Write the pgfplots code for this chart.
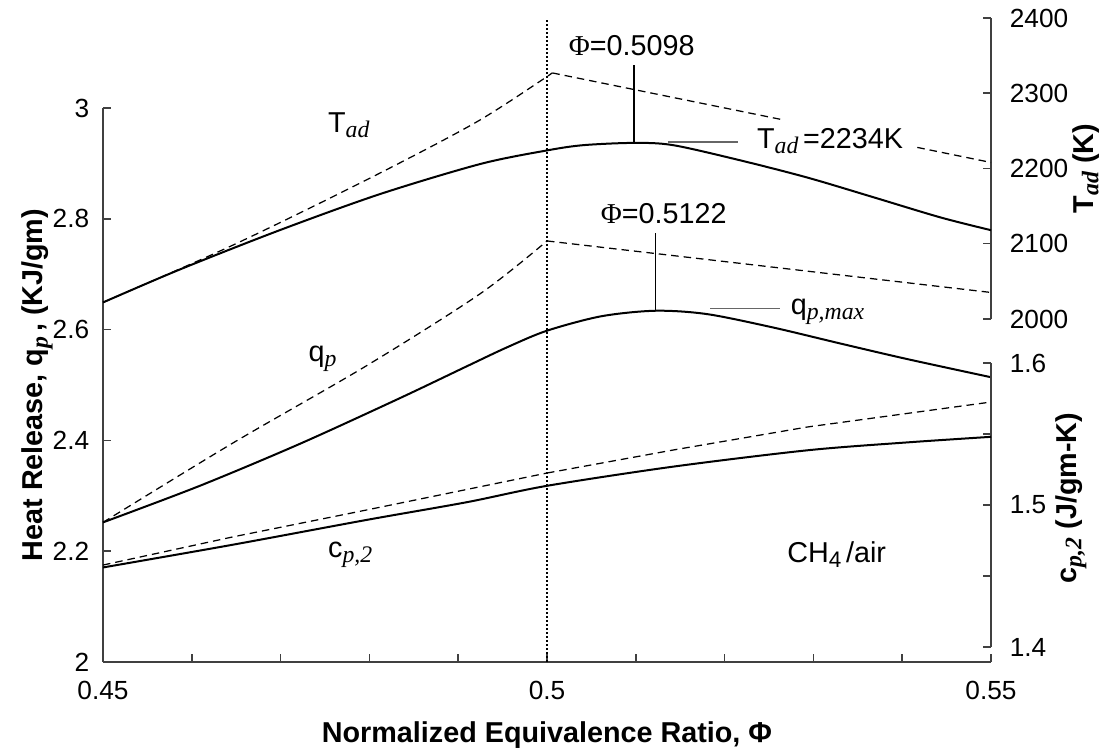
\documentclass[border=0pt]{standalone}
\usepackage{fontspec}
\setmainfont{Liberation Sans}
\newfontfamily\serif{Liberation Serif}
\usepackage{pgfplots}
\pgfplotsset{compat=1.18}

% italic serif subscripts as in the original figure
\newcommand{\isub}[1]{\raisebox{-2pt}{\serif\itshape\fontsize{9.5}{10}\selectfont #1}}
\newcommand{\isubb}[1]{\raisebox{-2pt}{\serif\bfseries\itshape\fontsize{9.5}{10}\selectfont #1}}
\newcommand{\annot}{\fontsize{11.5}{13}\selectfont}

\pgfplotsset{
  base/.style={
    scale only axis, width=355.2pt, xmin=0.45, xmax=0.55, clip=false,
    tick align=inside, major tick length=3.2pt, minor tick length=3.2pt,
    axis line style={black!75, line width=0.6pt},
    every tick/.style={black!75, line width=0.6pt},
    tick label style={font=\fontsize{10.5}{12}\selectfont},
    /pgf/number format/assume math mode=true,
    /pgf/number format/1000 sep={},
    scaled ticks=false,
    label style={font=\bfseries\fontsize{11.5}{13}\selectfont},
  },
  right axis/.style={
    axis x line=none, axis y line*=right,
    yticklabel shift=4pt,
  },
  solid curve/.style={black, line width=0.8pt, smooth},
  dash curve/.style={black, line width=0.5pt, dash pattern=on 3pt off 2pt},
}

\begin{document}
\begin{tikzpicture}
\useasboundingbox (0,0) rectangle (441.6pt,301.2pt);

% ---- heat release (left axis) ----
\begin{axis}[base, at={(41.2pt,36.4pt)}, anchor=south west, height=221.6pt,
  ymin=2, ymax=3,
  axis x line*=bottom, axis y line*=left,
  xtick={0.45,0.5,0.55},
  minor xtick={0.46,0.47,0.48,0.49,0.51,0.52,0.53,0.54},
  ytick={2,2.2,2.4,2.6,2.8,3},
  xticklabel shift=4pt,
  yticklabel shift=2pt,
  xlabel={Normalized Equivalence Ratio, Φ},
  ylabel={Heat Release, q\isubb{p}\,, (KJ/gm)},
  xlabel style={at={(axis description cs:0.5,-0.132)}, anchor=center},
  ylabel style={at={(axis description cs:-0.074,0.5)}, anchor=center},
]
\addplot[solid curve] coordinates {
  (0.45,2.252) (0.4609,2.318) (0.4722,2.394) (0.4834,2.476) (0.4910,2.534)
  (0.4955,2.568) (0.5,2.598) (0.5061,2.624) (0.5122,2.634) (0.518,2.628)
  (0.5254,2.604) (0.533,2.575) (0.5405,2.547) (0.55,2.514)};
\addplot[dash curve, smooth] coordinates {
  (0.45,2.252) (0.4646,2.395) (0.4797,2.535) (0.4925,2.665) (0.5,2.760)};
\addplot[dash curve] coordinates {(0.5,2.760) (0.55,2.667)};
% stoichiometric-limit marker
\addplot[black, line width=0.5pt, dash pattern=on 0.8pt off 0.8pt] coordinates {(0.5,2) (0.5,3.162)};
% q_p maximum annotation
\addplot[black, line width=0.6pt] coordinates {(0.5122,2.634) (0.5122,2.775)};
\addplot[black!60, line width=0.7pt] coordinates {(0.5184,2.638) (0.5262,2.638)};
\node[anchor=base west, inner sep=0pt, font=\annot] at (axis cs:0.5060,2.791) {{\serif Φ}=0.5122};
\node[anchor=base west, inner sep=0pt, font=\annot] at (axis cs:0.5274,2.627) {q\isub{p,max}};
\node[anchor=base west, inner sep=0pt, font=\annot] at (axis cs:0.4753,2.955) {T\isub{ad}};
\node[anchor=base west, inner sep=0pt, font=\annot] at (axis cs:0.4731,2.542) {q\isub{p}};
\node[anchor=base west, inner sep=0pt, font=\annot] at (axis cs:0.4753,2.189) {c\isub{p,2}};
\node[anchor=base west, inner sep=0pt, font=\annot] at (axis cs:0.5270,2.180)
  {CH\raisebox{-2pt}{\fontsize{9}{10}\selectfont 4}\,/air};
\end{axis}

% ---- adiabatic flame temperature (upper right axis) ----
\begin{axis}[base, right axis, at={(41.2pt,173.6pt)}, anchor=south west, height=120.4pt,
  ymin=2000, ymax=2400,
  ytick={2000,2100,2200,2300,2400},
  ylabel={T\isubb{ad} (K)},
  ylabel style={at={(axis description cs:1.107,0.5)}, anchor=center},
]
\addplot[solid curve] coordinates {
  (0.45,2022) (0.4587,2066) (0.4699,2118) (0.4812,2166) (0.4925,2206)
  (0.5,2224) (0.5041,2231) (0.5098,2234) (0.5142,2231) (0.5217,2211)
  (0.5293,2188) (0.5367,2162) (0.5443,2135) (0.55,2118)};
\addplot[dash curve, smooth] coordinates {
  (0.45,2022) (0.4646,2098) (0.4797,2185) (0.4921,2262) (0.5006,2327)};
\addplot[dash curve] coordinates {(0.5006,2327) (0.5266,2264.6)};
\addplot[dash curve] coordinates {(0.5417,2228) (0.55,2208)};
% T_ad maximum annotation
\addplot[black, line width=0.6pt] coordinates {(0.5098,2234) (0.5098,2337)};
\addplot[black!60, line width=0.7pt] coordinates {(0.5136,2235) (0.5215,2235)};
\node[anchor=base west, inner sep=0pt, font=\annot] at (axis cs:0.5024,2349.5) {{\serif Φ}=0.5098};
\node[anchor=base west, inner sep=0pt, font=\annot] at (axis cs:0.5236,2227) {T\isub{ad}\,=2234K};
\end{axis}

% ---- specific heat (lower right axis) ----
\begin{axis}[base, right axis, at={(41.2pt,42.4pt)}, anchor=south west, height=113.6pt,
  ymin=1.4, ymax=1.6,
  ytick={1.4,1.5,1.6}, minor ytick={1.45,1.55},
  ylabel={c\isubb{p,2} (J/gm-K)},
  ylabel style={at={(axis description cs:1.090,0.525)}, anchor=center},
]
\addplot[solid curve] coordinates {
  (0.45,1.456) (0.4646,1.472) (0.4797,1.4895) (0.491,1.502) (0.5,1.5135)
  (0.5142,1.527) (0.5293,1.5385) (0.5404,1.544) (0.55,1.548)};
\addplot[dash curve] coordinates {
  (0.45,1.4577) (0.4646,1.4775) (0.4797,1.4965) (0.5,1.5225)};
\addplot[dash curve] coordinates {(0.5,1.5225) (0.5142,1.5387) (0.5293,1.5549) (0.55,1.5725)};
\end{axis}
\end{tikzpicture}
\end{document}
